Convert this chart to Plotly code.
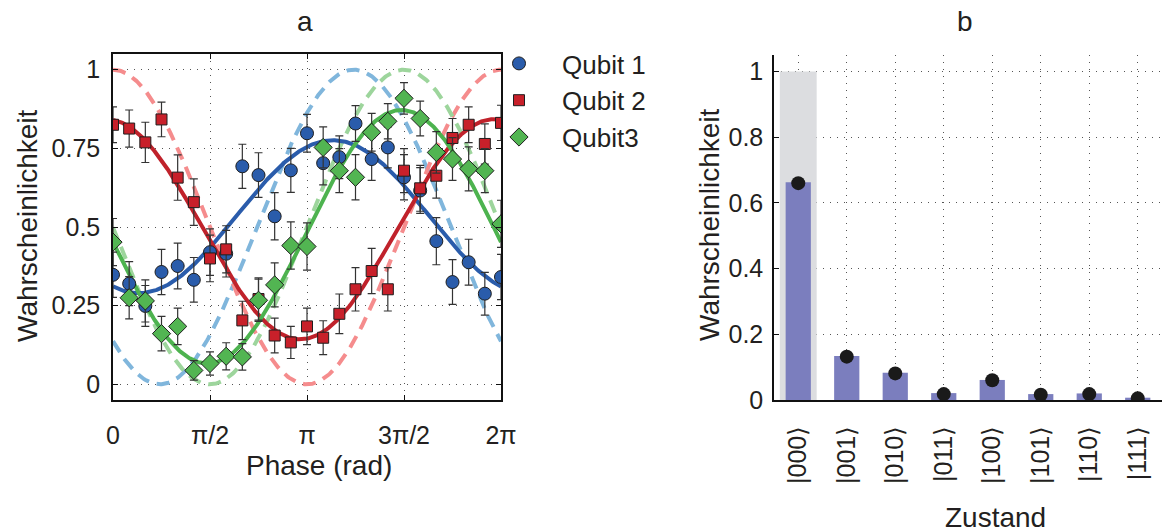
import numpy as np
import plotly.graph_objects as go

# ---------------- panel a: phase scan of three qubits ----------------
phase_steps = list(range(25))  # phase = k * pi/12, k = 0..24

qubit1 = [0.348, 0.320, 0.249, 0.357, 0.376, 0.332, 0.420, 0.415, 0.693, 0.665,
          0.534, 0.680, 0.798, 0.703, 0.722, 0.829, 0.716, 0.753, 0.658, 0.616,
          0.455, 0.325, 0.388, 0.288, 0.341]
qubit1_err = [0.072, 0.070, 0.065, 0.072, 0.073, 0.071, 0.074, 0.074, 0.070, 0.071,
              0.075, 0.070, 0.060, 0.069, 0.068, 0.057, 0.068, 0.065, 0.072, 0.073,
              0.075, 0.071, 0.073, 0.068, 0.072]

qubit2 = [0.825, 0.813, 0.769, 0.842, 0.657, 0.579, 0.400, 0.429, 0.203, 0.271,
          0.155, 0.133, 0.184, 0.148, 0.224, 0.302, 0.360, 0.302, 0.679, 0.623,
          0.663, 0.783, 0.825, 0.764, 0.831]
qubit2_err = [0.057, 0.059, 0.064, 0.055, 0.072, 0.074, 0.074, 0.075, 0.061, 0.067,
              0.055, 0.051, 0.058, 0.054, 0.063, 0.069, 0.072, 0.069, 0.070, 0.073,
              0.071, 0.062, 0.057, 0.064, 0.056]

qubit3 = [0.452, 0.275, 0.265, 0.161, 0.184, 0.044, 0.066, 0.089, 0.087, 0.267,
          0.316, 0.441, 0.438, 0.753, 0.679, 0.658, 0.801, 0.836, 0.909, 0.845,
          0.737, 0.716, 0.685, 0.679, 0.510]
qubit3_err = [0.075, 0.067, 0.067, 0.055, 0.058, 0.031, 0.037, 0.043, 0.042, 0.067,
              0.070, 0.075, 0.075, 0.065, 0.070, 0.072, 0.060, 0.056, 0.050, 0.055,
              0.066, 0.068, 0.070, 0.070, 0.075]

# sinusoid parameters: offset, amplitude, phase of maximum (rad)
fit_offset = [0.533, 0.493, 0.469]
fit_amp = [0.243, 0.350, 0.403]
fit_peak = [3.56, -0.11, 4.67]
ideal_offset = [0.5, 0.5, 0.5]
ideal_amp = [0.5, 0.5, 0.5]
ideal_peak = [3.90, 0.0, 4.71]

phase_ticks = ["0", "π/2", "π", "3π/2", "2π"]
prob_ticks_a = ["0", "0.25", "0.5", "0.75", "1"]
legend_names = ["Qubit 1", "Qubit 2", "Qubit3"]

# ---------------- panel b: state populations ----------------
states = ["|000⟩", "|001⟩", "|010⟩", "|011⟩", "|100⟩", "|101⟩", "|110⟩", "|111⟩"]
ideal_pop = [1.0, 0, 0, 0, 0, 0, 0, 0]
bar_pop = [0.663, 0.134, 0.083, 0.021, 0.061, 0.018, 0.020, 0.007]
dot_pop = [0.660, 0.132, 0.081, 0.018, 0.060, 0.016, 0.018, 0.005]
prob_ticks_b = ["0", "0.2", "0.4", "0.6", "0.8", "1"]

FONT = "Liberation Sans, Arial, sans-serif"
TXT = "#231f20"
W, H = 1165, 532

solid_cols = ["#2a5cab", "#c0222b", "#4db34f"]
dash_cols = ["#80b6dc", "#f58c8d", "#9dd59c"]
marker_fill = ["#2a5cab", "#c8202a", "#52b552"]
symbols = ["circle", "square", "diamond"]
sizes = [13, 11, 14]

fig = go.Figure()

x_phase = np.array(phase_steps) * np.pi / 12
xs = np.linspace(0, 2 * np.pi, 400)

# ideal curves (dashed)
for i in range(3):
    fig.add_trace(go.Scatter(
        x=xs, y=ideal_offset[i] + ideal_amp[i] * np.cos(xs - ideal_peak[i]),
        mode="lines", line=dict(color=dash_cols[i], width=4, dash="13px,8px"),
        showlegend=False, hoverinfo="skip", xaxis="x", yaxis="y"))

# fitted curves (solid)
for i in range(3):
    fig.add_trace(go.Scatter(
        x=xs, y=fit_offset[i] + fit_amp[i] * np.cos(xs - fit_peak[i]),
        mode="lines", line=dict(color=solid_cols[i], width=4),
        showlegend=False, hoverinfo="skip", xaxis="x", yaxis="y"))

# measured points
data = [(qubit1, qubit1_err), (qubit2, qubit2_err), (qubit3, qubit3_err)]
for i, (vals, errs) in enumerate(data):
    fig.add_trace(go.Scatter(
        x=x_phase, y=vals, mode="markers", name=legend_names[i],
        marker=dict(symbol=symbols[i], size=sizes[i], color=marker_fill[i],
                    line=dict(color="#1e1e1e", width=1)),
        error_y=dict(type="data", array=errs, color="#333333", thickness=1.2, width=4),
        showlegend=False, xaxis="x", yaxis="y"))

# legend entries
for i in range(3):
    fig.add_trace(go.Scatter(
        x=[None], y=[None], mode="markers", name=legend_names[i],
        marker=dict(symbol=symbols[i], size=sizes[i], color=marker_fill[i],
                    line=dict(color="#1e1e1e", width=1)),
        xaxis="x", yaxis="y"))

# panel b bars
fig.add_trace(go.Bar(x=states, y=ideal_pop, width=0.76, marker=dict(color="#dcdde0", line=dict(width=0)),
                     showlegend=False, xaxis="x2", yaxis="y2"))
fig.add_trace(go.Bar(x=states, y=bar_pop, width=0.52, marker=dict(color="#7b7ebe", line=dict(width=0)),
                     showlegend=False, xaxis="x2", yaxis="y2"))
fig.add_trace(go.Scatter(x=states, y=dot_pop, mode="markers",
                         marker=dict(size=14, color="#1a1a1a"),
                         showlegend=False, xaxis="x2", yaxis="y2"))

grid = dict(showgrid=True, gridcolor="#555555", gridwidth=1, griddash="1px,6px")
tickfont = dict(family=FONT, size=25, color=TXT)

fig.update_layout(
    template="none",
    width=W, height=H, autosize=False,
    margin=dict(l=0, r=0, t=0, b=0, pad=0),
    paper_bgcolor="white", plot_bgcolor="white",
    barmode="overlay",
    font=dict(family=FONT, color=TXT),
    xaxis=dict(domain=[113 / W, 501 / W], range=[0, 2 * np.pi], automargin=False,
               tickvals=[0, np.pi / 2, np.pi, 3 * np.pi / 2, 2 * np.pi], ticktext=phase_ticks,
               showline=True, linecolor="#111111", linewidth=1.5, mirror="allticks",
               ticks="inside", ticklen=5, tickcolor="#111111", tickfont=tickfont,
               ticklabelstandoff=12, zeroline=False, **grid),
    yaxis=dict(domain=[132 / H, 478 / H], range=[-0.05, 1.05], automargin=False,
               tickvals=[0, 0.25, 0.5, 0.75, 1], ticktext=prob_ticks_a,
               showline=True, linecolor="#111111", linewidth=1.5, mirror="allticks",
               ticks="inside", ticklen=5, tickcolor="#111111", tickfont=tickfont,
               ticklabelstandoff=6, zeroline=False, **grid),
    xaxis2=dict(domain=[774 / W, 1162 / W], range=[-0.5, 7.5], type="category",
                automargin=False,
                showline=True, linecolor="#111111", linewidth=1.5,
                ticks="", tickangle=-90, tickfont=tickfont, ticklabelstandoff=14,
                zeroline=False, anchor="y2", **grid),
    yaxis2=dict(domain=[132 / H, 477 / H], range=[0, 1.05], automargin=False,
                tickvals=[0, 0.2, 0.4, 0.6, 0.8, 1], ticktext=prob_ticks_b,
                showline=True, linecolor="#111111", linewidth=1.5,
                ticks="inside", ticklen=5, tickcolor="#111111", tickfont=tickfont,
                ticklabelstandoff=4, zeroline=False, anchor="x2", **grid),
    legend=dict(x=476 / W, y=1 - 40 / H, xanchor="left", yanchor="top",
                font=dict(family=FONT, size=26, color=TXT), itemwidth=76,
                bgcolor="rgba(0,0,0,0)", tracegroupgap=0, itemsizing="trace"),
)

def label(text, x, y, size=28, angle=0):
    fig.add_annotation(text=text, x=x / W, y=1 - y / H, xref="paper", yref="paper",
                       showarrow=False, textangle=angle, xanchor="center", yanchor="middle",
                       font=dict(family=FONT, size=size, color=TXT))

label("a", 305, 22)
label("b", 965, 22)
label("Wahrscheinlichkeit", 27, 226, angle=-90)
label("Wahrscheinlichkeit", 710, 225, angle=-90)
label("Phase (rad)", 319, 465)
label("Zustand", 995, 517)

fig.write_html("out.html")
